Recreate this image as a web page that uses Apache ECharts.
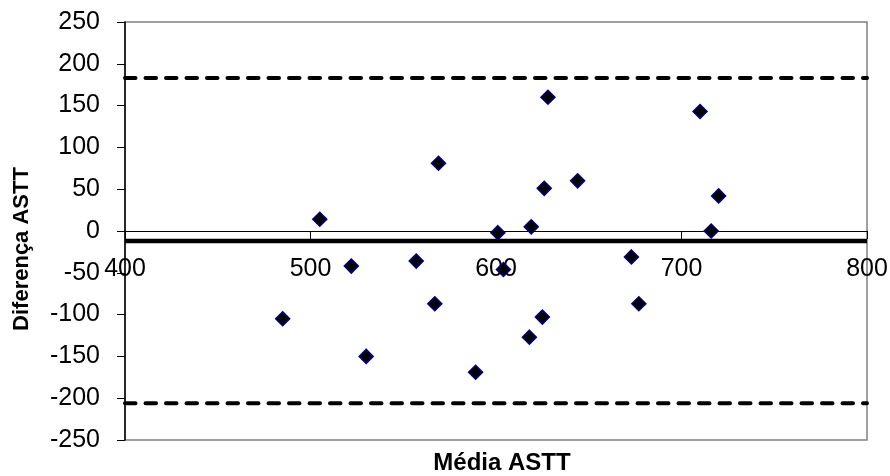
<!DOCTYPE html>
<html>
<head>
<meta charset="utf-8">
<script src="https://cdn.jsdelivr.net/npm/echarts@6/dist/echarts.min.js"></script>
<style>
html,body{margin:0;padding:0;background:#fff;}
#chart{width:890px;height:476px;}
</style>
</head>
<body>
<div id="chart"></div>
<script>
// Média ASTT (x) and Diferença ASTT (y)
const mediaASTT = [505, 569, 628, 710, 626, 644, 720, 601, 619, 716, 522, 557, 485, 530, 567, 673, 604, 677, 625, 618, 589];
const diferencaASTT = [14, 81, 160, 143, 51, 60, 42, -2, 5, 0, -42, -36, -105, -150, -87, -31, -46, -87, -103, -127, -169];
const meanDiff = -12;
const upperLimit = 183;
const lowerLimit = -206;
const xRange = [400, 800];
const xTicks = [400, 500, 600, 700, 800];
const yTicks = [-250, -200, -150, -100, -50, 0, 50, 100, 150, 200, 250];

const points = mediaASTT.map((x, i) => [x, diferencaASTT[i]]);
const hLine = v => xRange.map(x => [x, v]);

const GRID_TOP = 22, GRID_BOTTOM = 36, H = 476;
const plotH = H - GRID_TOP - GRID_BOTTOM;
const yMin = yTicks[0], yMax = yTicks[yTicks.length - 1];
// distance from the bottom of the plot up to the y = 0 line
const zeroOffset = plotH * (0 - yMin) / (yMax - yMin);

const FONT = '"Liberation Sans", Arial, sans-serif';
const chart = echarts.init(document.getElementById('chart'), null, {renderer: 'canvas'});
chart.setOption({
  animation: false,
  backgroundColor: '#fff',
  grid: {left: 125, right: 23, top: GRID_TOP, bottom: GRID_BOTTOM, show: true, borderColor: '#808080', borderWidth: 1.5,
         backgroundColor: 'transparent', containLabel: false, outerBoundsMode: 'none'},
  xAxis: {
    type: 'value', min: xTicks[0], max: xTicks[xTicks.length - 1], interval: 100,
    position: 'bottom', offset: -zeroOffset,
    name: 'Média ASTT', nameLocation: 'middle', nameGap: 220,
    nameTextStyle: {fontFamily: FONT, fontSize: 24, fontWeight: 'bold', color: '#000', padding: [0, 0, 0, 12]},
    axisLine: {show: true, onZero: false, lineStyle: {color: '#000', width: 1}},
    axisTick: {show: true, length: 8, lineStyle: {color: '#000', width: 1}},
    axisLabel: {fontFamily: FONT, fontSize: 25, color: '#000', margin: 26},
    splitLine: {show: false}
  },
  yAxis: {
    type: 'value', min: yMin, max: yMax, interval: 50,
    name: 'Diferença ASTT', nameLocation: 'middle', nameGap: 92, nameRotate: 90,
    nameTextStyle: {fontFamily: FONT, fontSize: 22, fontWeight: 'bold', color: '#000', padding: [0, 36, 0, 0]},
    axisLine: {show: true, onZero: false, lineStyle: {color: '#000', width: 1.5}},
    axisTick: {show: true, length: 8, lineStyle: {color: '#000', width: 1}},
    axisLabel: {fontFamily: FONT, fontSize: 25, color: '#000', margin: 25},
    splitLine: {show: false}
  },
  series: [
    {type: 'line', data: hLine(upperLimit), symbol: 'none', silent: true, z: 1,
     lineStyle: {color: '#000', width: 4, type: [10.5, 10], cap: 'round'}},
    {type: 'line', data: hLine(lowerLimit), symbol: 'none', silent: true, z: 1,
     lineStyle: {color: '#000', width: 4, type: [10.5, 10], cap: 'round'}},
    {type: 'line', data: hLine(meanDiff), symbol: 'none', silent: true, z: 1,
     lineStyle: {color: '#000', width: 4.5}},
    {type: 'scatter', data: points, symbol: 'diamond', symbolSize: 14, z: 3,
     itemStyle: {color: '#000', borderColor: '#000080', borderWidth: 1.5, opacity: 1}}
  ]
});
</script>
</body>
</html>
